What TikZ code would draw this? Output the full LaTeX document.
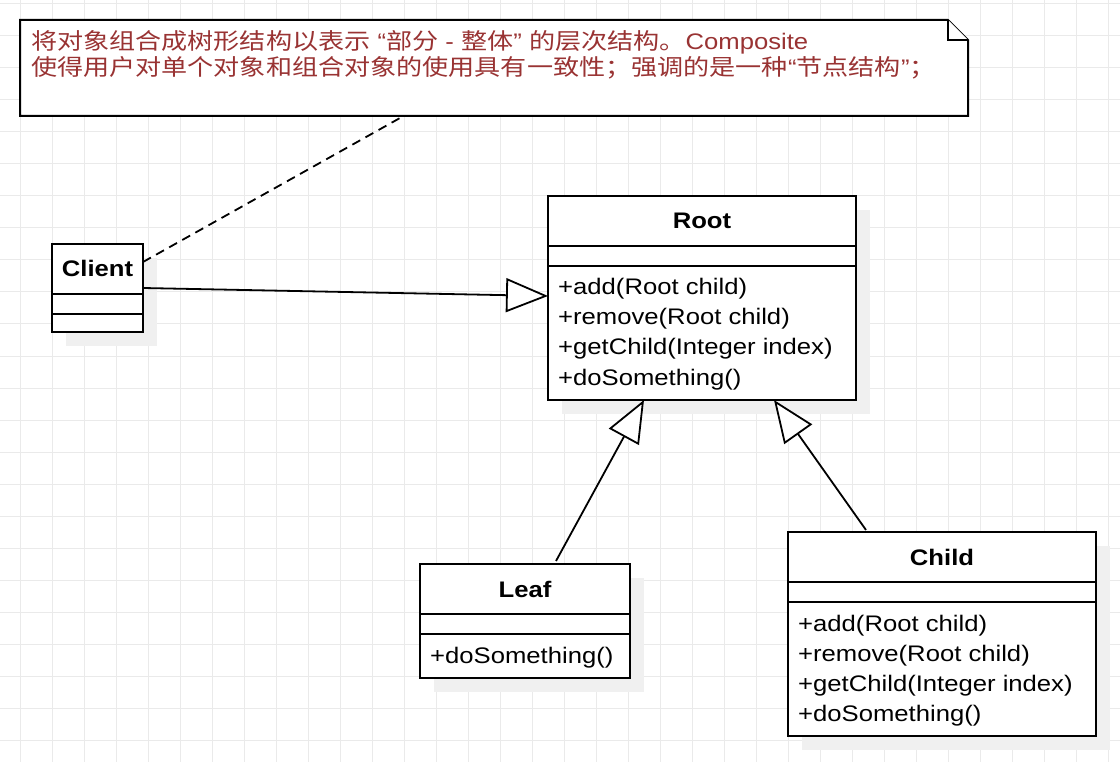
\documentclass[tikz,border=0pt]{standalone}
\usepackage{fontspec}
\setmainfont[FakeStretch=1.14]{Liberation Sans}
\newfontfamily\cjk[FakeStretch=1.16]{Noto Sans CJK SC}
\usetikzlibrary{arrows.meta,shadows,calc}
\definecolor{gridcol}{RGB}{234,234,234}
\definecolor{shadowcol}{RGB}{240,240,240}
\definecolor{notecol}{RGB}{153,51,51}
\newcommand\zh[1]{{\cjk #1}}
\begin{document}
\begin{tikzpicture}[x=1pt,y=-1pt,
  gridline/.style={draw=gridcol,line width=1pt},
  umlbox/.style={draw=black,line width=2pt,fill=white,inner sep=0pt,outer sep=0pt,anchor=north west,
     drop shadow={shadow xshift=14pt,shadow yshift=-14pt,fill=shadowcol,opacity=1}},
  divider/.style={draw=black,line width=2pt},
  clstitle/.style={font=\fontsize{22.5pt}{25pt}\selectfont\bfseries,inner sep=0pt,anchor=base},
  member/.style={font=\fontsize{22.5pt}{25pt}\selectfont,inner sep=0pt,anchor=base west},
  notetext/.style={font=\fontsize{22.5pt}{25pt}\selectfont,text=notecol,inner sep=0pt,anchor=base west},
  notebox/.style={draw=black,line width=2pt,fill=white},
  conn/.style={draw=black,line width=1.8pt},
  inherit/.style={conn,-{Triangle[length=42pt,width=34pt,fill=white]}},
  notelink/.style={conn,dash pattern=on 9pt off 6pt},
]
\useasboundingbox (0,0) rectangle (1120,762);
% grid
\foreach \x in {20,52,...,1108} \draw[gridline] (\x,0) -- (\x,762);
\foreach \y in {4,36,...,740} \draw[gridline] (0,\y) -- (1120,\y);

% note
\node[inner sep=0pt,outer sep=0pt,minimum width=948pt,minimum height=96pt,anchor=north west] (note) at (20,20) {};
\draw[notebox] (note.north west) -- ([xshift=-20pt]note.north east) -- ([yshift=-20pt]note.north east)
   -- (note.south east) -- (note.south west) -- cycle;
\draw[notebox] ([xshift=-20pt]note.north east) -- ([xshift=-20pt,yshift=-20pt]note.north east) -- ([yshift=-20pt]note.north east);
\node[notetext] (note1) at (31,50) {\zh{将对象组合成树形结构以表示} “\zh{部分} - \zh{整体}” \zh{的层次结构。}Composite};
\node[notetext] (note2) at (31,75.5) {\zh{使得用户对单个对象和组合对象的使用具有一致性；强调的是一种}“\zh{节点结构}”\zh{；}};

% Client
\node[umlbox,minimum width=91pt,minimum height=88pt] (client) at (52,244) {};
\draw[divider] ([yshift=-50pt]client.north west) -- ([yshift=-50pt]client.north east);
\draw[divider] ([yshift=-70pt]client.north west) -- ([yshift=-70pt]client.north east);
\node[clstitle] (clientt) at ([yshift=-33pt]client.north) {Client};

% Root
\node[umlbox,minimum width=308pt,minimum height=204pt] (root) at (548,196) {};
\draw[divider] ([yshift=-50pt]root.north west) -- ([yshift=-50pt]root.north east);
\draw[divider] ([yshift=-70pt]root.north west) -- ([yshift=-70pt]root.north east);
\node[clstitle] (roott) at ([yshift=-33pt]root.north) {Root};
\node[member] (rootm1) at ([xshift=10pt,yshift=-99pt]root.north west) {+add(Root child)};
\node[member] (rootm2) at ([xshift=10pt,yshift=-129pt]root.north west) {+remove(Root child)};
\node[member] (rootm3) at ([xshift=10pt,yshift=-159pt]root.north west) {+getChild(Integer index)};
\node[member] (rootm4) at ([xshift=10pt,yshift=-189pt]root.north west) {+doSomething()};

% Leaf
\node[umlbox,minimum width=210pt,minimum height=114pt] (leaf) at (420,564) {};
\draw[divider] ([yshift=-50pt]leaf.north west) -- ([yshift=-50pt]leaf.north east);
\draw[divider] ([yshift=-70pt]leaf.north west) -- ([yshift=-70pt]leaf.north east);
\node[clstitle] (leaft) at ([yshift=-33pt]leaf.north) {Leaf};
\node[member] (leafm1) at ([xshift=10pt,yshift=-99pt]leaf.north west) {+doSomething()};

% Child
\node[umlbox,minimum width=308pt,minimum height=204pt] (child) at (788,532) {};
\draw[divider] ([yshift=-50pt]child.north west) -- ([yshift=-50pt]child.north east);
\draw[divider] ([yshift=-70pt]child.north west) -- ([yshift=-70pt]child.north east);
\node[clstitle] (childt) at ([yshift=-33pt]child.north) {Child};
\node[member] (childm1) at ([xshift=10pt,yshift=-99pt]child.north west) {+add(Root child)};
\node[member] (childm2) at ([xshift=10pt,yshift=-129pt]child.north west) {+remove(Root child)};
\node[member] (childm3) at ([xshift=10pt,yshift=-159pt]child.north west) {+getChild(Integer index)};
\node[member] (childm4) at ([xshift=10pt,yshift=-189pt]child.north west) {+doSomething()};

% connectors
\draw[notelink] ([yshift=-18pt]client.north east) -- ([xshift=380pt,yshift=-2pt]note.south west);
\draw[inherit] (client.east) -- ([yshift=2pt]root.west);
\draw[inherit] ([xshift=31pt,yshift=3pt]leaf.north) -- ([xshift=-58pt]root.south);
\draw[inherit] ([xshift=-76pt,yshift=2pt]child.north) -- ([xshift=72pt]root.south);
\end{tikzpicture}
\end{document}
